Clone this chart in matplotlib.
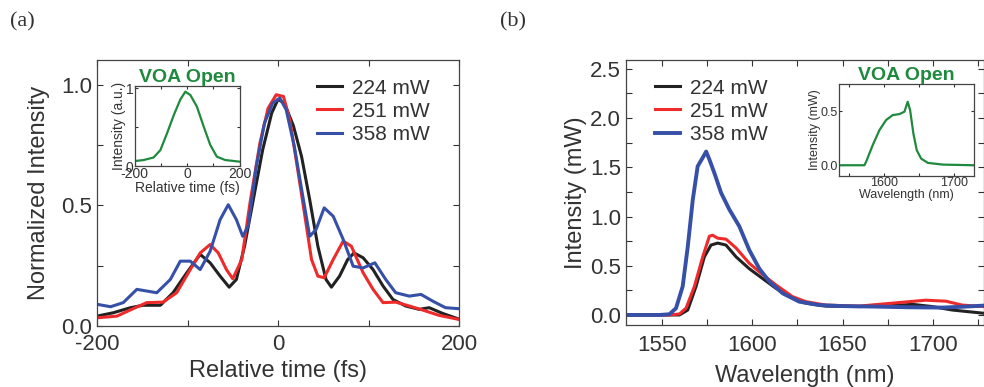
import numpy as np
import matplotlib.pyplot as plt
from matplotlib.ticker import MultipleLocator

plt.rcParams["font.family"] = ["Liberation Sans", "DejaVu Sans"]
plt.rcParams["axes.unicode_minus"] = False

# ---- panel (a): autocorrelation traces ----
t_224 = [-200, -182, -163, -149, -130, -116, -101, -86, -75, -64, -54, -46, -37, -28, -17, -7, 0, 7, 17, 26, 35, 44, 53, 59, 68, 77, 84, 94, 105, 116, 127, 141, 156, 167, 182, 199]
i_224 = [0.041, 0.055, 0.076, 0.086, 0.086, 0.138, 0.22, 0.297, 0.262, 0.207, 0.161, 0.193, 0.331, 0.51, 0.73, 0.883, 0.94, 0.924, 0.83, 0.703, 0.524, 0.331, 0.193, 0.161, 0.207, 0.276, 0.303, 0.283, 0.234, 0.166, 0.110, 0.083, 0.069, 0.076, 0.052, 0.03]

t_251 = [-200, -178, -160, -145, -127, -112, -97, -86, -75, -66, -57, -50, -40, -31, -20, -11, -2, 6, 13, 20, 28, 37, 44, 51, 61, 72, 81, 94, 105, 116, 130, 145, 160, 178, 199]
i_251 = [0.034, 0.041, 0.072, 0.097, 0.099, 0.138, 0.234, 0.303, 0.338, 0.303, 0.234, 0.196, 0.276, 0.51, 0.759, 0.903, 0.959, 0.952, 0.855, 0.69, 0.497, 0.276, 0.207, 0.2, 0.276, 0.352, 0.331, 0.221, 0.152, 0.097, 0.099, 0.083, 0.066, 0.044, 0.028]

t_358 = [-200, -185, -171, -156, -134, -119, -108, -97, -86, -75, -64, -55, -46, -39, -33, -24, -15, -6, 2, 9, 18, 28, 35, 42, 51, 61, 72, 83, 94, 107, 119, 130, 145, 158, 171, 185, 199]
i_358 = [0.090, 0.080, 0.097, 0.152, 0.138, 0.193, 0.269, 0.269, 0.234, 0.310, 0.441, 0.503, 0.441, 0.372, 0.414, 0.662, 0.841, 0.924, 0.945, 0.897, 0.745, 0.524, 0.372, 0.40, 0.49, 0.455, 0.359, 0.248, 0.241, 0.262, 0.193, 0.138, 0.124, 0.131, 0.103, 0.076, 0.072]

t_open = [-200, -166, -128, -102, -77, -51, -26, -7, 12, 37, 63, 88, 113, 145, 200]
i_open = [0.064, 0.077, 0.11, 0.206, 0.42, 0.657, 0.858, 0.957, 0.914, 0.764, 0.506, 0.27, 0.12, 0.077, 0.056]

# ---- panel (b): spectra ----
wl_224 = [1530, 1559.6, 1564.2, 1568.8, 1573.4, 1577.1, 1580.8, 1585.4, 1591, 1598.3, 1605.7, 1613.1, 1622.3, 1629.7, 1640.8, 1659.2, 1677.7, 1688.7, 1699.8, 1710.9, 1728.4]
p_224 = [0.0, 0.0, 0.05, 0.29, 0.59, 0.71, 0.73, 0.71, 0.59, 0.47, 0.37, 0.27, 0.17, 0.12, 0.09, 0.085, 0.095, 0.108, 0.085, 0.05, 0.017]

wl_251 = [1530, 1554, 1559.6, 1563.3, 1567.9, 1572.5, 1576.2, 1578, 1580.8, 1585.4, 1591, 1598.3, 1605.7, 1613.1, 1622.3, 1629.7, 1640.8, 1659.2, 1677.7, 1696.1, 1707.2, 1716.4, 1728.4]
p_251 = [0.0, 0.0, 0.01, 0.07, 0.29, 0.59, 0.80, 0.81, 0.78, 0.77, 0.68, 0.525, 0.41, 0.305, 0.186, 0.135, 0.10, 0.09, 0.12, 0.15, 0.14, 0.10, 0.085]

wl_358 = [1530, 1548.5, 1554, 1557.7, 1561.4, 1564.2, 1567, 1569.7, 1572.9, 1574.4, 1576.2, 1579, 1582.7, 1587.3, 1592.8, 1598.3, 1603.9, 1609.4, 1616.8, 1626, 1637.1, 1650, 1668.5, 1687, 1705.4, 1718.3, 1728.4]
p_358 = [0.0, 0.0, 0.007, 0.068, 0.29, 0.69, 1.17, 1.51, 1.61, 1.66, 1.58, 1.44, 1.24, 1.07, 0.90, 0.66, 0.47, 0.34, 0.22, 0.135, 0.10, 0.09, 0.085, 0.078, 0.075, 0.085, 0.095]

wl_open = [1535.7, 1571.4, 1573.8, 1583.3, 1592.9, 1602.4, 1611.9, 1621.4, 1628.6, 1633.3, 1636.7, 1641.4, 1646.2, 1652.4, 1661.9, 1683.3, 1727.6]
p_open = [0.0, 0.0, 0.03, 0.185, 0.324, 0.417, 0.463, 0.472, 0.494, 0.586, 0.509, 0.293, 0.139, 0.062, 0.022, 0.006, 0.0]

labels = ["224 mW", "251 mW", "358 mW"]
colors = ["#222222", "#ee2a2a", "#3650a8"]
green = "#1f8a3e"
txt = "#333333"


def style(ax, size, pad=4):
    ax.tick_params(direction="in", which="both", top=True, right=True,
                   labelsize=size, colors=txt, length=4, width=0.8)
    ax.tick_params(which="minor", length=4)
    ax.tick_params(axis="x", pad=pad)
    for s in ax.spines.values():
        s.set_color("#444444")
        s.set_linewidth(0.9)


fig = plt.figure(figsize=(9.84, 3.87), dpi=100)

# (a)
ax1 = fig.add_axes([0.0986, 0.1576, 0.3679, 0.6873])
for t, y, lab, c in zip([t_224, t_251, t_358], [i_224, i_251, i_358], labels, colors):
    ax1.plot(t, y, color=c, lw=2.2, label=lab)
ax1.set_xlim(-200, 200)
ax1.set_ylim(0, 1.103)
ax1.xaxis.set_major_locator(MultipleLocator(200))
ax1.xaxis.set_minor_locator(MultipleLocator(100))
ax1.yaxis.set_major_locator(MultipleLocator(0.5))
ax1.yaxis.set_minor_locator(MultipleLocator(0.25))
style(ax1, 16, pad=6)
ax1.set_xlabel("Relative time (fs)", fontsize=17, color=txt, labelpad=3)
ax1.set_ylabel("Normalized Intensity", fontsize=17, color=txt, labelpad=8)
ax1.legend(loc="upper right", frameon=False, fontsize=15, handlelength=1.2,
           handletextpad=0.5, labelspacing=0.2, borderaxespad=0.3,
           labelcolor=txt, bbox_to_anchor=(0.96, 0.985))

ins1 = fig.add_axes([0.1369, 0.571, 0.1067, 0.2067])
ins1.plot(t_open, i_open, color=green, lw=1.6)
ins1.set_xlim(-200, 200)
ins1.set_ylim(0, 1.03)
ins1.set_xticks([-200, 0, 200])
ins1.xaxis.set_minor_locator(MultipleLocator(100))
ins1.set_yticks([0, 1])
ins1.yaxis.set_minor_locator(MultipleLocator(0.5))
style(ins1, 10, pad=1)
ins1.tick_params(length=2.5, pad=1)
ins1.tick_params(which="minor", length=2.5)
ins1.set_xlabel("Relative time (fs)", fontsize=10, color=txt, labelpad=0)
ins1.set_ylabel("Intensity (a.u.)", fontsize=10, color=txt, labelpad=0)
ins1.set_title("VOA Open", fontsize=14, fontweight="bold", color=green, pad=0)

# (b)
ax2 = fig.add_axes([0.6362, 0.1602, 0.3638, 0.6848])
for w, p, lab, c in zip([wl_224, wl_251, wl_358], [p_224, p_251, p_358], labels, colors):
    ax2.plot(w, p, color=c, lw=2.8 if c == colors[2] else 2.2, label=lab)
ax2.set_xlim(1530, 1728.4)
ax2.set_ylim(-0.102, 2.59)
ax2.xaxis.set_major_locator(MultipleLocator(50))
ax2.xaxis.set_minor_locator(MultipleLocator(25))
ax2.yaxis.set_major_locator(MultipleLocator(0.5))
ax2.yaxis.set_minor_locator(MultipleLocator(0.25))
style(ax2, 16, pad=7)
ax2.set_xlabel("Wavelength (nm)", fontsize=17, color=txt, labelpad=7)
ax2.set_ylabel("Intensity (mW)", fontsize=17, color=txt, labelpad=2)
ax2.legend(loc="upper left", frameon=False, fontsize=15, handlelength=1.2,
           handletextpad=0.5, labelspacing=0.2, borderaxespad=0.3,
           labelcolor=txt, bbox_to_anchor=(0.04, 0.985))

ins2 = fig.add_axes([0.853, 0.545, 0.1366, 0.238])
ins2.plot(wl_open, p_open, color=green, lw=1.6)
ins2.set_xlim(1535.7, 1727.6)
ins2.set_ylim(-0.1, 0.75)
ins2.set_xticks([1600, 1700])
ins2.xaxis.set_minor_locator(MultipleLocator(50))
ins2.set_yticks([0.0, 0.5])
style(ins2, 9, pad=1)
ins2.tick_params(length=2.5, pad=1)
ins2.tick_params(which="minor", length=2.5)
ins2.set_xlabel("Wavelength (nm)", fontsize=9, color=txt, labelpad=0)
ins2.set_ylabel("Intensity (mW)", fontsize=9, color=txt, labelpad=0)
ins2.set_title("VOA Open", fontsize=14, fontweight="bold", color=green, pad=1)

fig.text(0.01, 0.943, "(a)", fontsize=16, family="Liberation Serif", color=txt, va="center")
fig.text(0.508, 0.943, "(b)", fontsize=16, family="Liberation Serif", color=txt, va="center")

fig.savefig("out.png", dpi=100)
